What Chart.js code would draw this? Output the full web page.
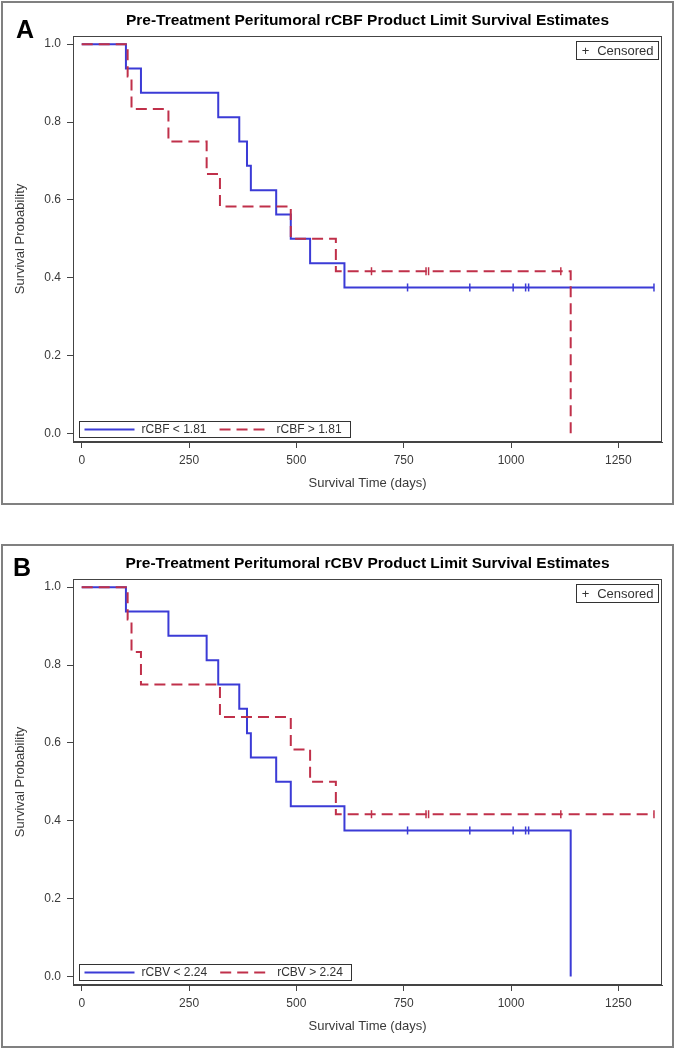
<!DOCTYPE html>
<html>
<head>
<meta charset="utf-8">
<script src="https://cdn.jsdelivr.net/npm/chart.js@4.4.1/dist/chart.umd.min.js"></script>
<style>
  html, body { margin: 0; padding: 0; background: #fff; }
  body { width: 675px; height: 1048px; position: relative; overflow: hidden; }
  .panel { position: absolute; left: 1px; width: 669px; height: 500px; border: 2px solid #808080; }
  .panel canvas { position: absolute; left: 0; top: 0; }
  .tag { position: absolute; font: bold 25px "Liberation Sans", Arial, sans-serif; line-height: 25px; color: #000; }
</style>
</head>
<body>
<div class="panel" style="top:1px"><canvas id="chartA" width="669" height="500"></canvas></div>
<div class="panel" style="top:544px"><canvas id="chartB" width="669" height="500"></canvas></div>
<span class="tag" style="left:16px; top:17px">A</span>
<span class="tag" style="left:13px; top:555px">B</span>
<script>
const xTicks = [0, 250, 500, 750, 1000, 1250];
const yTicks = [0, 0.2, 0.4, 0.6, 0.8, 1.0];

// panel A - rCBF
const cbfLowTimes = [0, 103, 138, 318, 367, 385, 394, 453, 487, 532, 612, 1333];
const cbfLowSurv = [1, 0.9375, 0.875, 0.8125, 0.75, 0.6875, 0.625, 0.5625, 0.5, 0.4375, 0.375, 0.375];
const cbfLowCensTimes = [759, 904, 1005, 1034, 1041, 1333];
const cbfLowCensSurv = [0.375, 0.375, 0.375, 0.375, 0.375, 0.375];
const cbfHighTimes = [0, 107, 116, 202, 291, 322, 487, 592, 1139];
const cbfHighSurv = [1, 0.9167, 0.8333, 0.75, 0.6667, 0.5833, 0.5, 0.4167, 0];
const cbfHighCensTimes = [675, 802, 808, 1116];
const cbfHighCensSurv = [0.4167, 0.4167, 0.4167, 0.4167];

// panel B - rCBV
const cbvLowTimes = [0, 103, 202, 291, 318, 367, 385, 394, 453, 487, 612, 1139];
const cbvLowSurv = [1, 0.9375, 0.875, 0.8125, 0.75, 0.6875, 0.625, 0.5625, 0.5, 0.4375, 0.375, 0];
const cbvLowCensTimes = [759, 904, 1005, 1034, 1041];
const cbvLowCensSurv = [0.375, 0.375, 0.375, 0.375, 0.375];
const cbvHighTimes = [0, 107, 116, 138, 322, 487, 532, 592, 1333];
const cbvHighSurv = [1, 0.9167, 0.8333, 0.75, 0.6667, 0.5833, 0.5, 0.4167, 0.4167];
const cbvHighCensTimes = [675, 802, 808, 1116, 1333];
const cbvHighCensSurv = [0.4167, 0.4167, 0.4167, 0.4167, 0.4167];

const BLUE = "#3b3bd6";
const RED = "#c0304a";
const FONT = '"Liberation Sans", Arial, sans-serif';

Chart.defaults.font.family = FONT;
Chart.defaults.color = "#333";

const pts = (xs, ys) => xs.map((x, i) => ({ x: x, y: ys[i] }));

const kmDecor = {
  id: "kmDecor",
  beforeDatasetsDraw(chart) {
    const { ctx, chartArea: a } = chart;
    ctx.save();
    ctx.strokeStyle = "#444";
    ctx.lineWidth = 1;
    const l = Math.round(a.left) + 0.5, t = Math.round(a.top) + 0.5;
    const r = Math.round(a.right) - 0.5, b = Math.round(a.bottom) - 0.5;
    ctx.strokeRect(l, t, r - l, b - t);
    ctx.restore();
  },
  afterDraw(chart) {
    const { ctx, chartArea: a } = chart;
    const items = chart.data.datasets.filter((d) => d.label !== "Censored");
    ctx.save();
    ctx.textBaseline = "middle";
    ctx.textAlign = "left";
    ctx.lineWidth = 1;

    // bottom legend
    ctx.font = "12px " + FONT;
    const sample = 50, gapText = 7, gapItem = 13, padL = 5, padR = 9;
    let w = padL + padR;
    items.forEach((d, i) => {
      w += sample + gapText + ctx.measureText(d.label).width + (i ? gapItem : 0);
    });
    w = Math.round(w);
    const h = 16;
    const bx = Math.round(a.left + 6) + 0.5;
    const by = Math.round(a.bottom - 5 - h) + 0.5;
    ctx.fillStyle = "#fff";
    ctx.fillRect(bx, by, w, h);
    ctx.strokeStyle = "#333";
    ctx.strokeRect(bx, by, w, h);
    let x = bx + padL;
    const cy = by + h / 2;
    items.forEach((d, i) => {
      if (i) x += gapItem;
      ctx.beginPath();
      ctx.setLineDash(d.borderDash || []);
      ctx.strokeStyle = d.borderColor;
      ctx.lineWidth = 2;
      ctx.moveTo(x, cy);
      ctx.lineTo(x + sample, cy);
      ctx.stroke();
      ctx.setLineDash([]);
      x += sample + gapText;
      ctx.fillStyle = "#333";
      ctx.fillText(d.label, x, cy + 0.5);
      x += ctx.measureText(d.label).width;
    });

    // censored key
    ctx.lineWidth = 1;
    ctx.font = "13px " + FONT;
    const cw = Math.round(20.7 + ctx.measureText("Censored").width + 5);
    const ch = 18;
    const cx = Math.round(a.right - 4 - cw) + 0.5;
    const cyTop = Math.round(a.top + 5) + 0.5;
    ctx.fillStyle = "#fff";
    ctx.fillRect(cx, cyTop, cw, ch);
    ctx.strokeStyle = "#333";
    ctx.strokeRect(cx, cyTop, cw, ch);
    ctx.fillStyle = "#333";
    ctx.textAlign = "center";
    ctx.fillText("+", cx + 9, cyTop + ch / 2 + 0.5);
    ctx.textAlign = "left";
    ctx.fillText("Censored", cx + 20.7, cyTop + ch / 2 + 0.5);
    ctx.restore();
  },
};

function makeChart(id, title, lowLabel, highLabel, low, high, lowCens, highCens) {
  return new Chart(document.getElementById(id), {
    type: "line",
    data: {
      datasets: [
        { label: "Censored", data: lowCens, showLine: false, pointStyle: "line", rotation: 90,
          pointRadius: 4, borderColor: BLUE, pointBorderWidth: 1.5, order: 0 },
        { label: "Censored", data: highCens, showLine: false, pointStyle: "line", rotation: 90,
          pointRadius: 4, borderColor: RED, pointBorderWidth: 1.5, order: 0 },
        { label: lowLabel, data: low, borderColor: BLUE, borderWidth: 2, stepped: true,
          pointRadius: 0, fill: false, order: 2 },
        { label: highLabel, data: high, borderColor: RED, borderWidth: 2, borderDash: [11, 6],
          stepped: true, pointRadius: 0, fill: false, order: 1 },
      ],
    },
    options: {
      responsive: false,
      animation: false,
      events: [],
      layout: { padding: { top: 0, left: 0, right: 10, bottom: 0 } },
      plugins: {
        legend: { display: false },
        tooltip: { enabled: false },
        title: {
          display: true,
          text: title,
          fullSize: false,
          color: "#000",
          font: { size: 15.5, weight: "bold", lineHeight: 1 },
          padding: { top: 10, bottom: 7.5 },
        },
      },
      scales: {
        x: {
          type: "linear",
          min: -20.3,
          max: 1351.7,
          afterFit: (s) => { s.height = 61; },
          afterBuildTicks: (s) => { s.ticks = xTicks.map((v) => ({ value: v })); },
          grid: { drawOnChartArea: false, drawTicks: true, tickLength: 6, color: "#444", tickColor: "#444" },
          border: { display: true, color: "#444", width: 1 },
          ticks: { font: { size: 12 }, color: "#3a3a3a", padding: 5, maxRotation: 0, callback: (v) => String(v) },
          title: { display: true, text: "Survival Time (days)", color: "#3a3a3a", font: { size: 13 }, padding: { bottom: 12 } },
        },
        y: {
          min: -0.022,
          max: 1.021,
          afterFit: (s) => { s.width = 70; },
          afterBuildTicks: (s) => { s.ticks = yTicks.map((v) => ({ value: v })); },
          grid: { drawOnChartArea: false, drawTicks: true, tickLength: 6, color: "#444", tickColor: "#444" },
          border: { display: true, color: "#444", width: 1 },
          ticks: { font: { size: 12 }, color: "#3a3a3a", padding: 6, callback: (v) => v.toFixed(1) },
          title: { display: true, text: "Survival Probability", color: "#3a3a3a", font: { size: 13 }, padding: { top: 10 } },
        },
      },
    },
    plugins: [kmDecor],
  });
}

makeChart("chartA", "Pre-Treatment Peritumoral rCBF Product Limit Survival Estimates",
  "rCBF < 1.81", "rCBF > 1.81",
  pts(cbfLowTimes, cbfLowSurv), pts(cbfHighTimes, cbfHighSurv),
  pts(cbfLowCensTimes, cbfLowCensSurv), pts(cbfHighCensTimes, cbfHighCensSurv));

makeChart("chartB", "Pre-Treatment Peritumoral rCBV Product Limit Survival Estimates",
  "rCBV < 2.24", "rCBV > 2.24",
  pts(cbvLowTimes, cbvLowSurv), pts(cbvHighTimes, cbvHighSurv),
  pts(cbvLowCensTimes, cbvLowCensSurv), pts(cbvHighCensTimes, cbvHighCensSurv));
</script>
</body>
</html>
